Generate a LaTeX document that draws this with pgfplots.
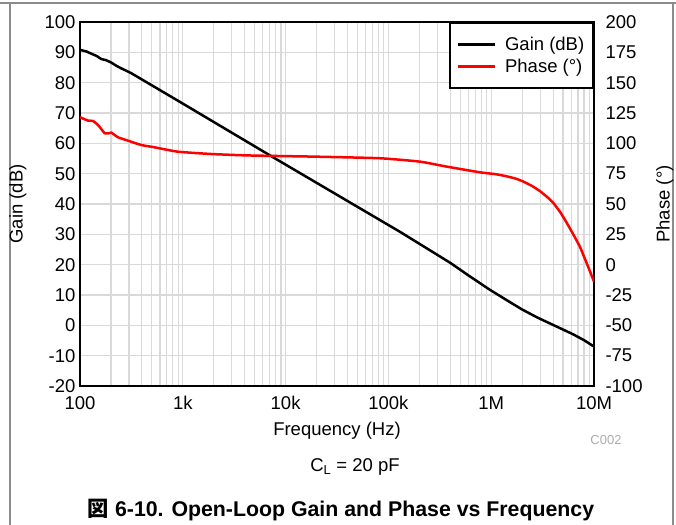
\documentclass[border=0pt]{standalone}
\usepackage{fontspec}
\setmainfont{Liberation Sans}
\newfontfamily\cjk{Noto Sans CJK JP}
\usepackage{pgfplots}
\pgfplotsset{compat=1.18}
\pgfplotstableread{
f g
100 90.8
115 90.3
130 89.5
145 88.8
161 87.8
180 87.4
202 86.6
225 85.6
252 84.7
280 84.0
316 83.1
1000 73.1
7830 55.1
82800 34.7
130000 30.8
400000 20.6
622000 16.1
973000 11.7
1400000 8.4
1980000 5.3
2800000 2.6
4020000 0.1
5000000 -1.4
6300000 -3.0
8000000 -4.9
10000000 -7.0
}\gaintab
\pgfplotstableread{
f p
100 121.5
110 120.0
119.6 118.7
133.8 118.4
149.7 115.1
162 111.5
174 108.3
190 108.3
202 108.8
234 105
293 102.2
395 98.6
533 96.7
896 93.1
1890 91.2
3990 90.1
7830 89.6
20000 89.0
82800 87.7
203000 84.9
369000 80.8
778000 76.1
1100000 74.6
1420000 72.8
1750000 70.8
2050000 68.5
2500000 64.8
2980000 60.6
3500000 55.8
4020000 50.9
4700000 43.2
5420000 34.6
6300000 24.8
7310000 14.6
8490000 1.2
9200000 -6.2
10000000 -14
}\phasetab
\begin{document}
\begin{tikzpicture}
\useasboundingbox (0bp,0bp) rectangle (676bp,525bp);
\draw[gray!90, line width=1.5bp] (0bp,522bp) -- (676bp,522bp);
\draw[gray!90, line width=1.5bp] (10bp,0bp) -- (10bp,522bp);
\draw[gray!90, line width=1.5bp] (673bp,0bp) -- (673bp,522bp);
\begin{axis}[
  at={(80bp,139bp)}, anchor=south west,
  scale only axis, width=514bp, height=364bp,
  xmode=log, xmin=100, xmax=1e7,
  ymin=-20, ymax=100, ytick={-20,-10,0,10,20,30,40,50,60,70,80,90,100},
  xtick={1e2,1e3,1e4,1e5,1e6,1e7}, xticklabels={100,1k,10k,100k,1M,10M},
  minor xtick={200,300,400,500,600,700,800,900,2000,3000,4000,5000,6000,7000,8000,9000,20000,30000,40000,50000,60000,70000,80000,90000,200000,300000,400000,500000,600000,700000,800000,900000,2000000,3000000,4000000,5000000,6000000,7000000,8000000,9000000},
  xmajorgrids, ymajorgrids, xminorgrids,
  major grid style={color=gray!30, line width=1.2bp},
  minor grid style={color=gray!30, line width=1.2bp},
  axis line style={line width=2.5bp},
  major tick length=0pt, minor tick length=0pt,
  ytick pos=left, xtick pos=bottom,
  tick label style={font=\fontsize{18.5bp}{22bp}\selectfont},
  /pgf/number format/assume math mode=true,
  xticklabel style={yshift=-7bp},
  yticklabel style={xshift=-1bp},
  label style={font=\fontsize{18.5bp}{22bp}\selectfont},
  xlabel={Frequency (Hz)},
  xlabel style={at={(axis description cs:0.5,-0.124)}, anchor=center},
  ylabel={Gain (dB)},
  ylabel style={at={(axis description cs:-0.121,0.5)}, anchor=center},
  legend style={at={(rel axis cs:1,1)}, anchor=north east, draw=black, line width=2.5bp,
    font=\fontsize{18.5bp}{22bp}\selectfont, inner xsep=7bp, inner ysep=12.5bp, row sep=4bp,
    fill=white, nodes={inner sep=1.5bp},
    /tikz/every odd column/.append style={column sep=7bp}},
  legend cell align=left,
  legend image code/.code={\draw[#1, line width=2.5bp] (0bp,0bp) -- (37bp,0bp);},
]
\addplot[black, line width=2.5bp] table[x=f, y=g] {\gaintab};
\addlegendentry{Gain (dB)}
\addlegendimage{red, line width=2.5bp}
\addlegendentry{Phase (°)}
\end{axis}
\begin{axis}[
  at={(80bp,139bp)}, anchor=south west,
  scale only axis, width=514bp, height=364bp,
  xmode=log, xmin=100, xmax=1e7,
  axis x line=none, axis y line*=right,
  ymin=-100, ymax=200, ytick={-100,-75,-50,-25,0,25,50,75,100,125,150,175,200},
  axis line style={line width=2.5bp},
  major tick length=0pt,
  tick label style={font=\fontsize{18.5bp}{22bp}\selectfont},
  /pgf/number format/assume math mode=true,
  yticklabel style={xshift=8bp},
  label style={font=\fontsize{18.5bp}{22bp}\selectfont},
  ylabel={Phase (°)},
  ylabel style={at={(axis description cs:1.138,0.5)}, anchor=center, rotate=0},
]
\addplot[red, line width=2.5bp, smooth, tension=0.3] table[x=f, y=p] {\phasetab};
\end{axis}
\node[text=gray!65, font=\fontsize{13bp}{15bp}\selectfont] at (606bp,85bp) {C002};
\node[font=\fontsize{18.5bp}{22bp}\selectfont] at (355bp,58bp) {C\textsubscript{L} = 20 pF};
\node[font=\bfseries\fontsize{21.3bp}{25bp}\selectfont] at (341bp,15bp) {{\cjk 図} 6-10. Open-Loop Gain and Phase vs Frequency};
\end{tikzpicture}
\end{document}
